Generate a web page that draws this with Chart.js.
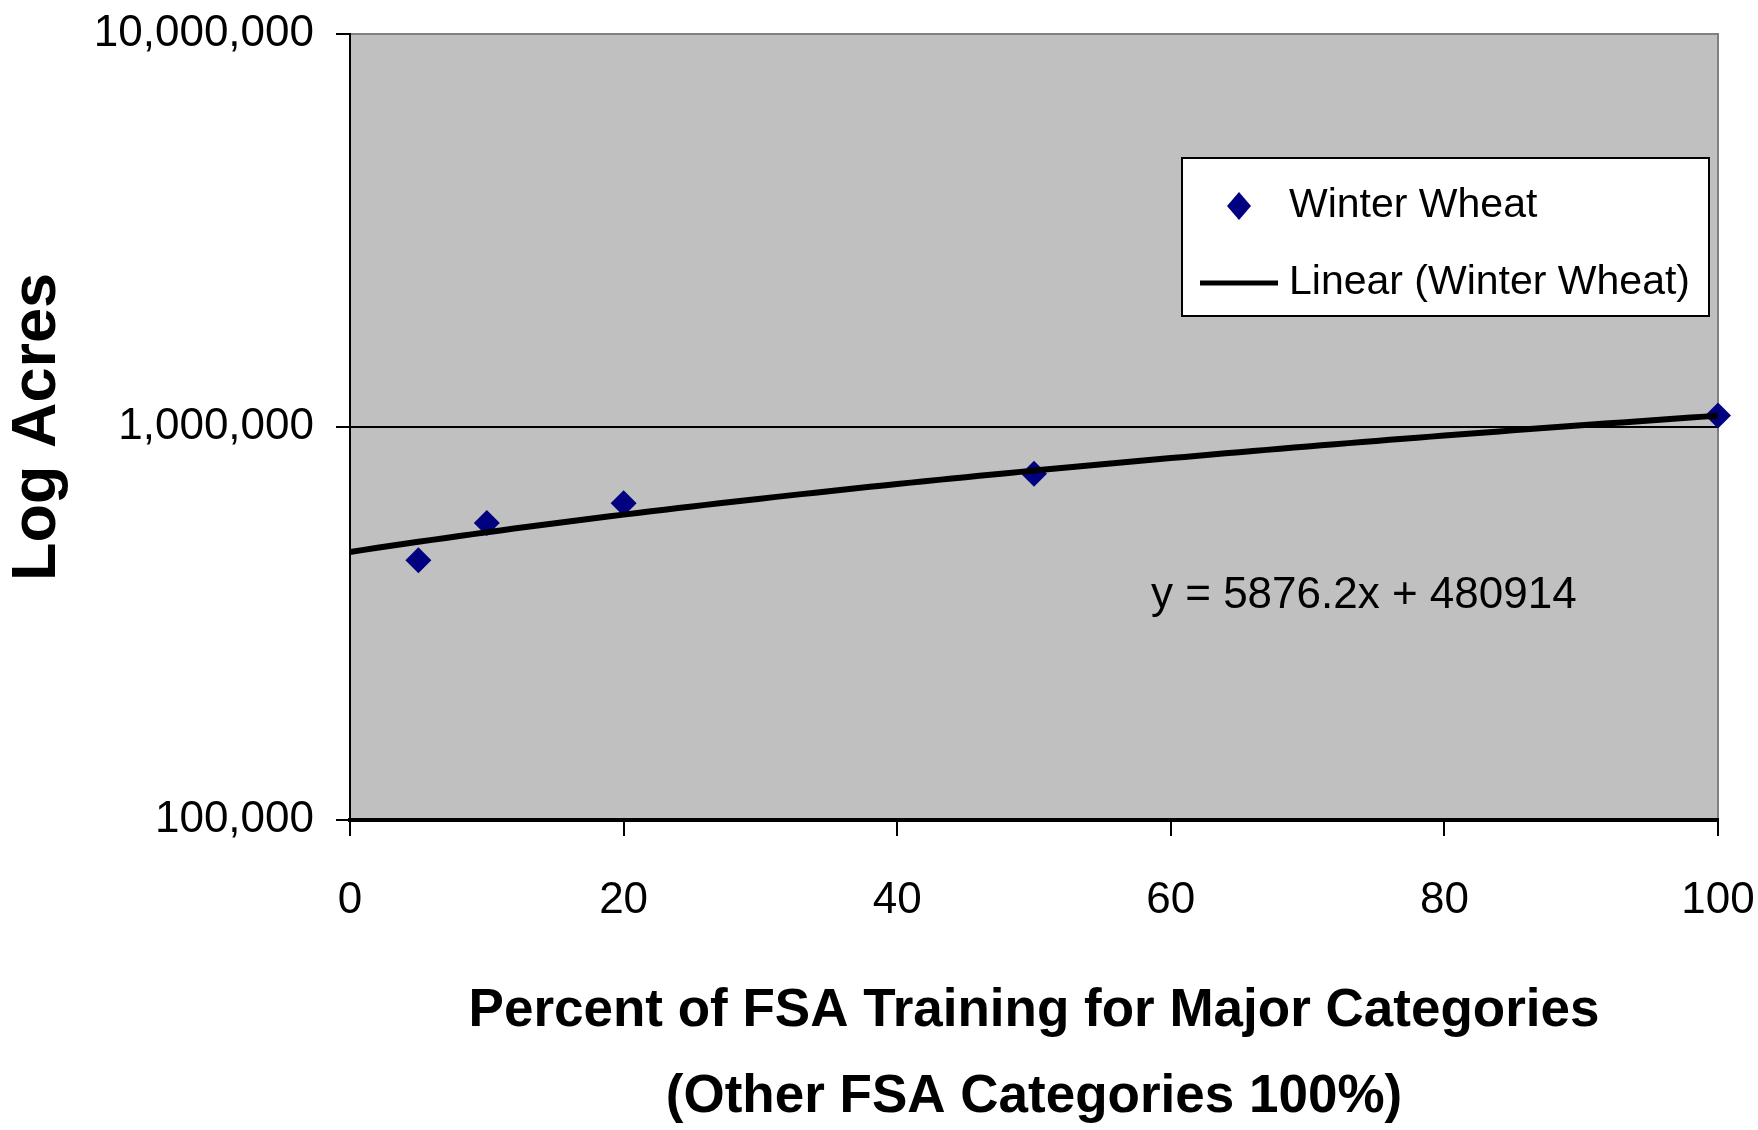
<!DOCTYPE html>
<html>
<head>
<meta charset="utf-8">
<title>Winter Wheat - Log Acres</title>
<script src="https://cdn.jsdelivr.net/npm/chart.js@4/dist/chart.umd.min.js"></script>
<style>
  body { margin: 0; background: #fff; }
  canvas { display: block; }
</style>
</head>
<body>
<canvas id="cht-wheat" width="1758" height="1130"></canvas>
<script>
// values
var pctTraining = [5, 10, 20, 50, 100];
var acres = [458000, 570000, 640000, 760000, 1070000];
var xTicks = [0, 20, 40, 60, 80, 100];
var yTicks = [100000, 1000000, 10000000];
var trendSlope = 5876.2;
var trendIntercept = 480914;
var seriesName = 'Winter Wheat';
var trendName = 'Linear (Winter Wheat)';
var xTitle = ['Percent of FSA Training for Major Categories', '(Other FSA Categories 100%)'];
var yTitle = 'Log Acres';

var fam = '"Liberation Sans", Arial, sans-serif';

// trend line from the equation printed on the chart
var trend = [];
for (var i = xTicks[0]; i <= xTicks[xTicks.length - 1]; i++) {
    trend.push({ x: i, y: trendSlope * i + trendIntercept });
}

var points = pctTraining.map(function (p, i) { return { x: p, y: acres[i] }; });

var plotBg = {
    id: 'plotBg',
    beforeDraw: function (chart) {
        var a = chart.chartArea, ctx = chart.ctx;
        ctx.save();
        ctx.fillStyle = '#c0c0c0';
        ctx.fillRect(a.left, a.top, a.right - a.left, a.bottom - a.top);
        ctx.strokeStyle = '#808080';
        ctx.lineWidth = 2;
        ctx.strokeRect(a.left, a.top, a.right - a.left, a.bottom - a.top);
        ctx.restore();
    }
};

var legendBox = {
    id: 'legendBox',
    afterDraw: function (chart) {
        var ctx = chart.ctx;
        var ds = chart.data.datasets;
        ctx.save();
        ctx.fillStyle = '#fff';
        ctx.fillRect(1182, 158, 527, 158);
        ctx.strokeStyle = '#000';
        ctx.lineWidth = 2;
        ctx.strokeRect(1182, 158, 527, 158);

        // diamond
        ctx.fillStyle = ds[1].backgroundColor;
        ctx.beginPath();
        ctx.moveTo(1239, 192);
        ctx.lineTo(1251, 206);
        ctx.lineTo(1239, 220);
        ctx.lineTo(1227, 206);
        ctx.closePath();
        ctx.fill();

        // line sample
        ctx.strokeStyle = ds[0].borderColor;
        ctx.lineWidth = 5;
        ctx.beginPath();
        ctx.moveTo(1200, 283);
        ctx.lineTo(1278, 283);
        ctx.stroke();

        ctx.fillStyle = '#000';
        ctx.font = '41px ' + fam;
        ctx.textBaseline = 'middle';
        ctx.textAlign = 'left';
        ctx.fillText(ds[1].label, 1289, 206);
        ctx.fillText(ds[0].label, 1289, 283);

        // equation
        ctx.font = '44px ' + fam;
        ctx.fillText('y = ' + trendSlope + 'x + ' + trendIntercept, 1151, 596);
        ctx.restore();
    }
};

var chart = new Chart(document.getElementById('cht-wheat'), {
    type: 'scatter',
    data: {
        datasets: [
            {
                type: 'line',
                label: trendName,
                data: trend,
                borderColor: '#000',
                borderWidth: 6,
                pointRadius: 0,
                fill: false,
                order: 0
            },
            {
                label: seriesName,
                data: points,
                pointStyle: 'rectRot',
                pointRadius: 13,
                backgroundColor: '#000080',
                borderColor: '#000080',
                borderWidth: 0,
                clip: false,
                order: 1
            }
        ]
    },
    options: {
        responsive: false,
        animation: false,
        events: [],
        layout: { padding: { top: 34, right: 40, left: 0, bottom: 0 } },
        plugins: {
            legend: { display: false },
            tooltip: { enabled: false }
        },
        scales: {
            x: {
                type: 'linear',
                min: 0,
                max: 100,
                afterBuildTicks: function (s) { s.ticks = xTicks.map(function (v) { return { value: v }; }); },
                afterFit: function (s) {
                    s.height = 310;
                    s.paddingLeft = 0;
                    s.paddingRight = 0;
                },
                grid: { drawOnChartArea: false, color: '#000', lineWidth: 2, tickLength: 16 },
                border: { color: '#000', width: 4 },
                ticks: { color: '#000', font: { family: fam, size: 44 }, padding: 38, maxRotation: 0 },
                title: {
                    display: true,
                    text: xTitle,
                    color: '#000',
                    font: { family: fam, size: 53, weight: 'bold', lineHeight: '86px' },
                    padding: { top: 0, bottom: -10 }
                }
            },
            y: {
                type: 'logarithmic',
                min: 100000,
                max: 10000000,
                afterBuildTicks: function (s) { s.ticks = yTicks.map(function (v) { return { value: v }; }); },
                afterFit: function (s) {
                    s.width = 350;
                    s.paddingTop = 0;
                    s.paddingBottom = 0;
                },
                grid: {
                    color: function (c) { return c.tick && c.tick.value === 10000000 ? '#808080' : '#000'; },
                    tickColor: '#000',
                    lineWidth: 2,
                    tickLength: 14
                },
                border: { color: '#000', width: 2 },
                ticks: {
                    color: '#000',
                    font: { family: fam, size: 44 },
                    padding: 22,
                    callback: function (v) { return Number(v).toLocaleString('en-US'); }
                },
                title: {
                    display: true,
                    text: yTitle,
                    color: '#000',
                    font: { family: fam, size: 63, weight: 'bold' },
                    padding: { top: 0, bottom: 0 }
                }
            }
        }
    },
    plugins: [plotBg, legendBox]
});
</script>
</body>
</html>
